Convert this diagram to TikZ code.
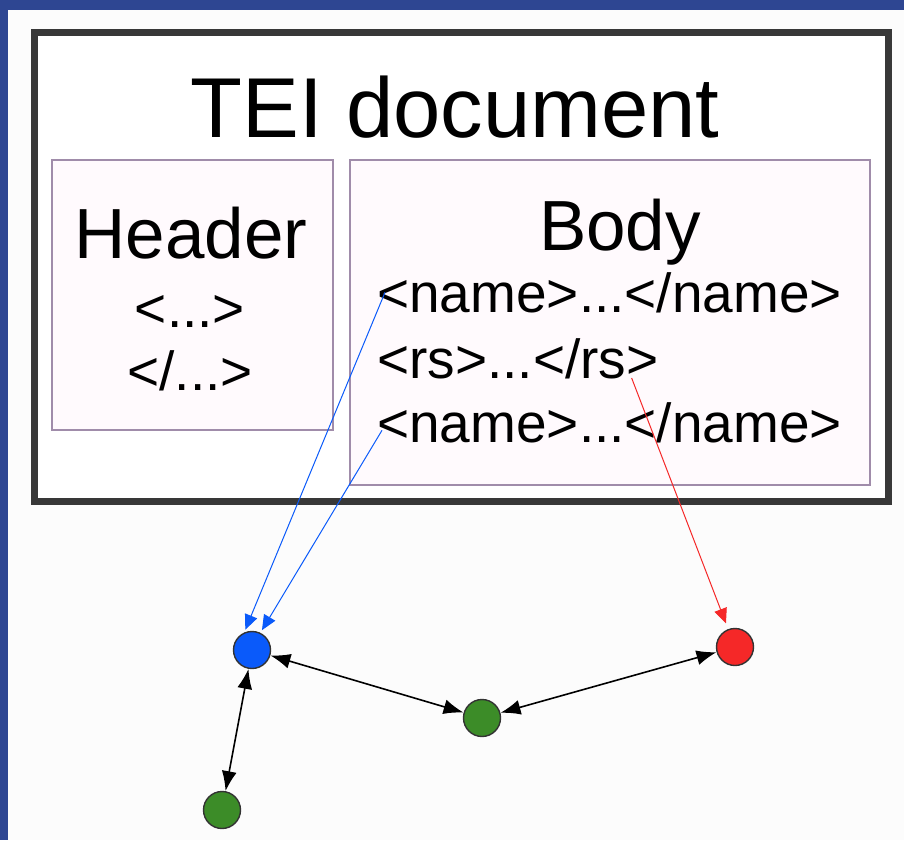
\documentclass[tikz,border=0pt]{standalone}
\usepackage{fontspec}
\setmainfont{Liberation Sans}
\usetikzlibrary{arrows.meta}

\definecolor{slideblue}{RGB}{46,70,146}
\definecolor{frameline}{RGB}{56,56,56}
\definecolor{boxline}{RGB}{160,140,170}
\definecolor{boxfill}{RGB}{255,250,253}
\definecolor{entblue}{RGB}{10,90,250}
\definecolor{entred}{RGB}{245,40,40}
\definecolor{entgreen}{RGB}{60,140,40}

\begin{document}
\begin{tikzpicture}[
  x=1pt, y=-1pt,
  part/.style={draw=boxline, line width=1.5pt, fill=boxfill},
  title/.style={anchor=base, inner sep=0pt, font=\fontsize{71}{76}\selectfont},
  tag/.style={inner sep=0pt, font=\fontsize{55}{60}\selectfont},
  entity/.style={circle, draw=black!80, line width=1.4pt, minimum size=37pt, inner sep=0pt},
  ref/.style={-{Triangle[length=15pt, width=13pt]}, line width=1pt},
  link/.style={{Latex[length=20pt, width=15pt]}-{Latex[length=20pt, width=15pt]}, line width=1.6pt},
]

% Slide background: blue band on top and left, white page.
\useasboundingbox (0, 0) rectangle (904, 840);
\fill[slideblue] (0, 0) rectangle (904, 840);
\fill[white!99!black] (8, 10) rectangle (904, 840);

% The TEI document with its two parts.
\draw[frameline, line width=7pt, fill=white] (34, 33) rectangle (888, 501);
\node[anchor=base, inner sep=0pt, font=\fontsize{85}{90}\selectfont] (doctitle) at (455, 138) {TEI document};
\draw[part] (52, 160) rectangle (333, 430);
\draw[part] (350, 160) rectangle (870, 485);

% Header part.
\node[title] (headtitle) at (191, 258) {Header};
\node[tag, anchor=base] (headopen) at (190, 327) {<...>};
\node[tag, anchor=base] (headclose) at (190, 390) {</...>};

% Body part with the tagged names.
\node[title] (bodytitle) at (620, 250) {Body};
\node[tag, anchor=base west] (nameA) at (377, 312) {<name>...</name>};
\node[tag, anchor=base west] (rsline) at (377, 378) {<rs>...</rs>};
\node[tag, anchor=base west] (nameB) at (377, 442) {<name>...</name>};

% Entities below the document.
\node[entity, fill=entblue] (person) at (252, 650) {};
\node[entity, fill=entred] (place) at (735, 647) {};
\node[entity, fill=entgreen] (mid) at (482, 718) {};
\node[entity, fill=entgreen] (low) at (222, 810) {};

% References from the tags to the entities.
\draw[ref, entblue, shorten >=3pt] ([xshift=8pt]nameA.west) -- (person.114);
\draw[ref, entblue, shorten >=3pt] ([shift={(5pt,-8pt)}]nameB.west) -- (person.64);
\draw[ref, entred, shorten >=6pt] ([xshift=-27pt]rsline.base east) -- (place);

% Links between the entities.
\draw[link] (person) -- (mid);
\draw[link] (mid) -- (place);
\draw[link] (person) -- (low);

\end{tikzpicture}
\end{document}
